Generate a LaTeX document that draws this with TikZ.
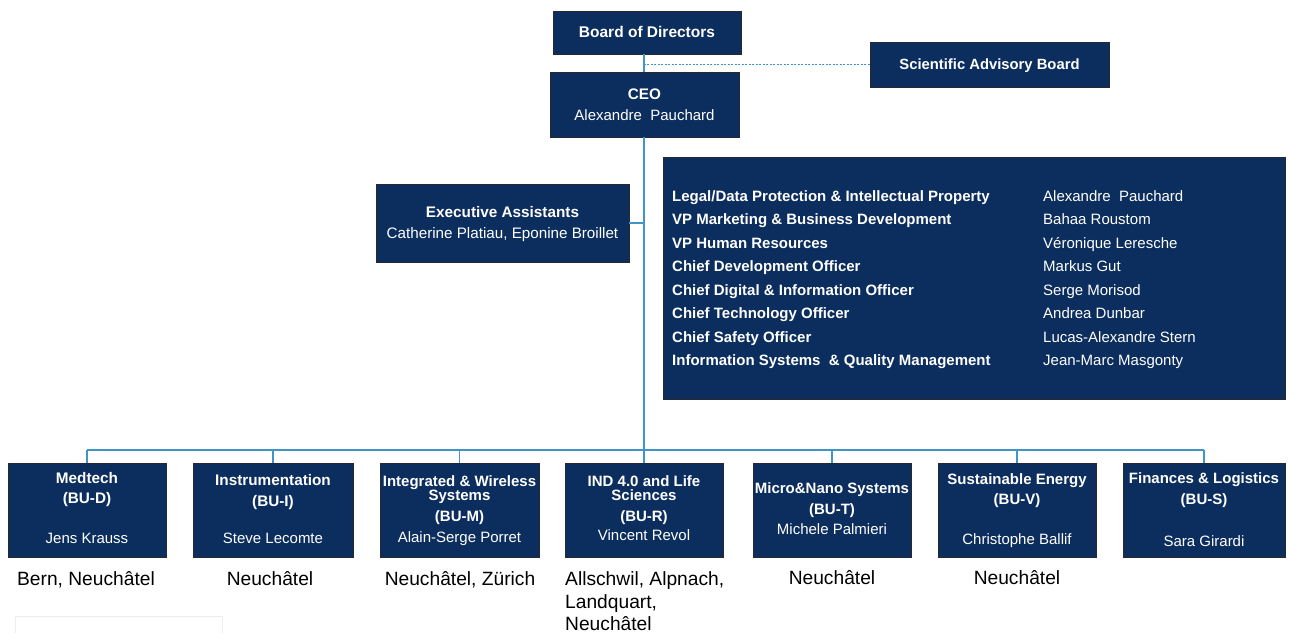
\documentclass[tikz,border=0pt]{standalone}
\usepackage{fontspec}
\setmainfont{Liberation Sans}
\definecolor{navy}{RGB}{12,46,94}
\definecolor{linkblue}{RGB}{64,148,200}
\definecolor{boxedge}{RGB}{40,40,48}
\newcounter{tn}
% text line: style, x, y (visual middle), text
\newcommand\tl[4]{\stepcounter{tn}\node[#1] (t\arabic{tn}) at (#2,#3) {#4};}
\tikzset{
  box/.style={draw=boxedge, fill=navy, line width=0.9pt, inner sep=0pt},
  wt/.style={text=white, inner sep=0pt, anchor=base, font=\fontsize{15}{17}\selectfont, yshift=-5.4pt},
  wb/.style={wt, font=\fontsize{15.3}{17}\selectfont\bfseries},
  wbs/.style={wt, font=\fontsize{15}{17}\selectfont\bfseries},
  loc/.style={text=black, inner sep=0pt, anchor=base, font=\fontsize{19.2}{22}\selectfont, yshift=-6.8pt},
  link/.style={draw=linkblue, line width=1.9pt},
  buslink/.style={draw=linkblue, line width=1.4pt},
  dotlink/.style={draw=linkblue, line width=0.8pt, dash pattern=on 2pt off 1.5pt},
}
\begin{document}
\begin{tikzpicture}[x=1pt,y=-1pt]
\useasboundingbox (0,0) rectangle (1296,633);
\coordinate (trunk) at (644,0);
\coordinate (bus) at (644,450);

% boxes
\node[box, minimum width=188pt, minimum height=43pt] (board) at (647,32.5) {};
\node[box, minimum width=239pt, minimum height=45pt] (sab) at (989.5,64.5) {};
\node[box, minimum width=189pt, minimum height=65pt] (ceo) at (644.5,104.5) {};
\node[box, minimum width=253pt, minimum height=78pt] (exec) at (502.5,223) {};
\node[box, minimum width=622pt, minimum height=242pt] (staff) at (974,278) {};

\node[box, minimum width=158pt, minimum height=94pt] (medtech) at (87,510) {};
\node[box, minimum width=160pt, minimum height=94pt] (instr) at (273,510) {};
\node[box, minimum width=159pt, minimum height=94pt] (integ) at (459.5,510) {};
\node[box, minimum width=158pt, minimum height=94pt] (ind) at (644,510) {};
\node[box, minimum width=158pt, minimum height=94pt] (micro) at (832,510) {};
\node[box, minimum width=158pt, minimum height=94pt] (sust) at (1017,510) {};
\node[box, minimum width=162pt, minimum height=94pt] (fin) at (1204,510) {};

% connectors
\draw[link] (board.south -| trunk) -- (ceo.north -| trunk);
\draw[link] (ceo.south -| trunk) -- (bus);
\draw[dotlink] (sab.west) -- (sab.west -| trunk);
\draw[buslink] (exec.east) -- (exec.east -| trunk);
\draw[buslink] (medtech.north |- bus) -- (fin.north |- bus);
\foreach \b in {medtech,instr,integ,ind,micro,sust,fin}
  \draw[buslink] (\b.north |- bus) -- (\b.north);

% top texts
\tl{wb, font=\fontsize{15.5}{17}\selectfont\bfseries}{647}{32}{Board of Directors}
\tl{wb, font=\fontsize{14.8}{17}\selectfont\bfseries}{989.5}{64.5}{Scientific Advisory Board}
\tl{wb}{644.5}{94}{CEO}
\tl{wt}{644.5}{115}{Alexandre\ \ Pauchard}
\tl{wb}{502.5}{212}{Executive Assistants}
\tl{wt, font=\fontsize{15.2}{17}\selectfont}{502.5}{233}{Catherine Platiau, Eponine Broillet}

% staff list
\foreach \i/\r/\n in {
 0/{Legal/Data Protection \& Intellectual Property}/{Alexandre\ \ Pauchard},
 1/{VP Marketing \& Business Development}/{Bahaa Roustom},
 2/{VP Human Resources}/{Véronique Leresche},
 3/{Chief Development Officer}/{Markus Gut},
 4/{Chief Digital \& Information Officer}/{Serge Morisod},
 5/{Chief Technology Officer}/{Andrea Dunbar},
 6/{Chief Safety Officer}/{Lucas-Alexandre Stern},
 7/{Information Systems\ \ \& Quality Management}/{Jean-Marc Masgonty}}{
  \node[wbs, anchor=base west] (r\i) at (672,196+23.5*\i) {\r};
  \node[wt, anchor=base west] (n\i) at (1043,196+23.5*\i) {\n};
}

% business units
\tl{wb}{87}{478}{Medtech}
\tl{wb}{87}{498}{(BU-D)}
\tl{wt}{87}{538}{Jens Krauss}

\tl{wb}{273}{480}{Instrumentation}
\tl{wb}{273}{501}{(BU-I)}
\tl{wt}{273}{538}{Steve Lecomte}

\tl{wbs}{459.5}{481}{Integrated \& Wireless}
\tl{wbs}{459.5}{495}{Systems}
\tl{wbs}{459.5}{516}{(BU-M)}
\tl{wt}{459.5}{537}{Alain-Serge Porret}

\tl{wbs}{644}{481}{IND 4.0 and Life}
\tl{wbs}{644}{495}{Sciences}
\tl{wbs}{644}{516}{(BU-R)}
\tl{wt}{644}{535}{Vincent Revol}

\tl{wbs}{832}{488}{Micro\&Nano Systems}
\tl{wbs}{832}{509}{(BU-T)}
\tl{wt}{832}{529}{Michele Palmieri}

\tl{wbs}{1017}{479}{Sustainable Energy}
\tl{wbs}{1017}{499}{(BU-V)}
\tl{wt}{1017}{539}{Christophe Ballif}

\tl{wbs}{1204}{478}{Finances \& Logistics}
\tl{wbs}{1204}{499}{(BU-S)}
\tl{wt}{1204}{541}{Sara Girardi}

% locations
\tl{loc}{86}{579}{Bern, Neuchâtel}
\tl{loc}{270}{579}{Neuchâtel}
\tl{loc}{460}{579}{Neuchâtel, Zürich}
\tl{loc, anchor=base west}{565}{579}{Allschwil, Alpnach,}
\tl{loc, anchor=base west}{565}{602}{Landquart,}
\tl{loc, anchor=base west}{565}{624}{Neuchâtel}
\tl{loc}{832}{578}{Neuchâtel}
\tl{loc}{1017}{578}{Neuchâtel}

% faint empty frame at bottom left
\draw[black!7, line width=0.8pt] (15,633) -- (15,616) -- (222,616) -- (222,633);
\end{tikzpicture}
\end{document}
